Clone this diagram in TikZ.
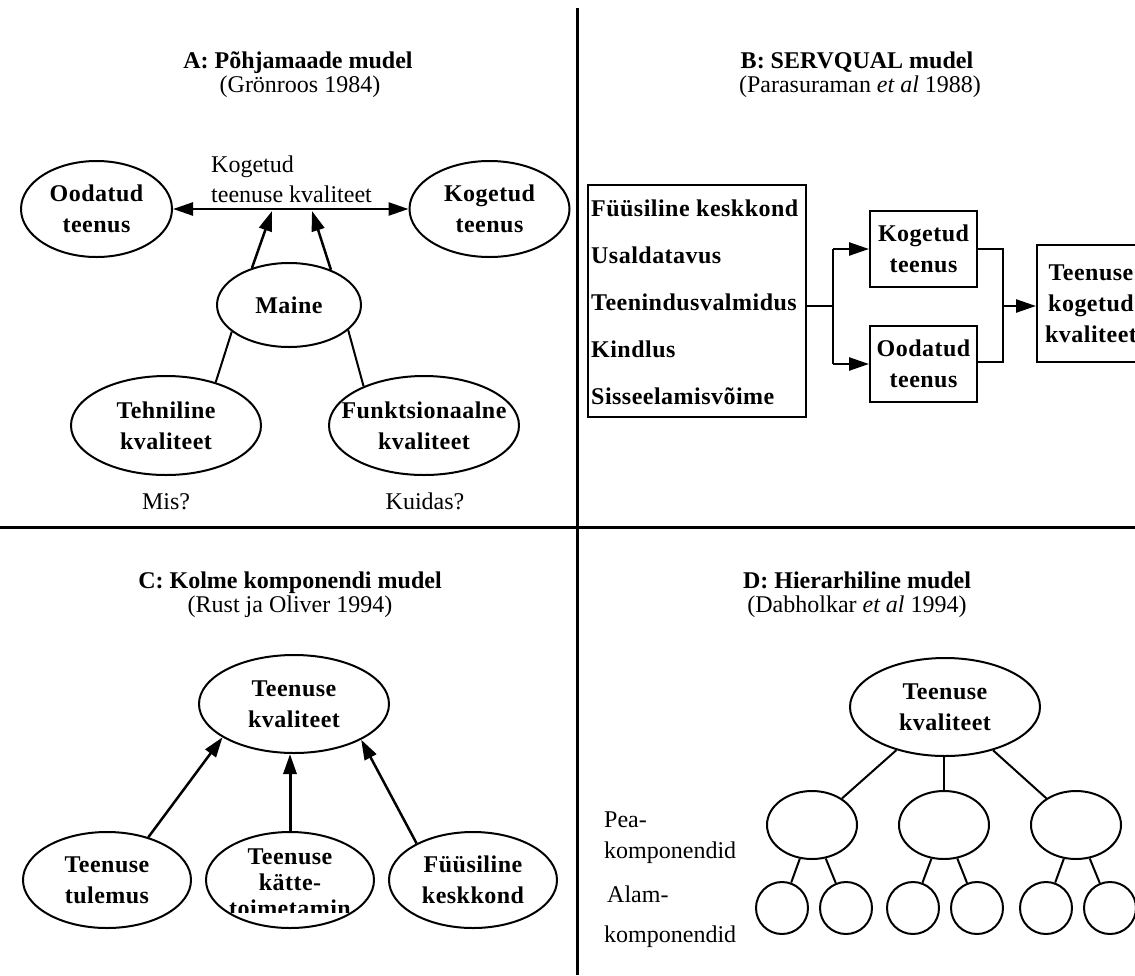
\documentclass[tikz,border=0pt]{standalone}
\usepackage{fontspec}
\setmainfont{Liberation Serif}
\usetikzlibrary{arrows.meta,shapes.geometric}

\tikzset{
  txt/.style={font=\fontsize{24}{26}\selectfont, inner sep=0},
  ttl/.style={font=\fontsize{24}{26}\selectfont\bfseries, inner sep=0},
  btxt/.style={font=\fontsize{24}{31}\selectfont\bfseries\addfontfeatures{LetterSpace=2}, align=center, inner sep=0},
  bitem/.style={font=\fontsize{24}{31}\selectfont\bfseries\addfontfeatures{LetterSpace=2}, inner sep=0, anchor=base west},
  oval/.style={ellipse, draw, line width=2pt, inner sep=0},
  box/.style={rectangle, draw, line width=2pt, inner sep=0},
  ln/.style={line width=2pt},
  tip/.tip={Triangle[length=20pt,width=13pt]},
  arr/.style={line width=2.5pt, -tip},
  sep/.style={line width=3pt},
}

\begin{document}
\begin{tikzpicture}[x=1pt,y=-1pt]
\clip (0,0) rectangle (1135,975);
\fill[white] (0,0) rectangle (1135,975);

% quadrant dividers
\coordinate (vtop) at (577,8);
\coordinate (vbot) at (577,975);
\coordinate (hl) at (0,527);
\coordinate (hr) at (1135,527);
\draw[sep] (vtop) -- (vbot);
\draw[sep] (hl) -- (hr);

% ---------- A: Nordic model ----------
\node[ttl, anchor=base] (tA) at (298,68) {A: Põhjamaade mudel};
\node[txt, anchor=base] (sA) at (300,92) {(Grönroos 1984)};

\node[oval, minimum width=151, minimum height=96, label={[btxt]center:Oodatud\\teenus}] (ood) at (96.5,209) {};
\node[oval, minimum width=160, minimum height=96, label={[btxt]center:Kogetud\\teenus}] (kog) at (489.5,209) {};
\draw[line width=2.5pt, tip-tip] (ood) -- (kog);

\node[txt, anchor=base west] (kq1) at (211,172) {Kogetud};
\node[txt, anchor=base west] (kq2) at (211,202) {teenuse kvaliteet};

\node[oval, minimum width=144, minimum height=84, label={[btxt]center:Maine}] (mai) at (289,305) {};
\coordinate (u1) at (272,211);
\coordinate (u2) at (312,211);
\draw[arr] (mai.135) -- (u1);
\draw[arr] (mai.40) -- (u2);

\node[oval, minimum width=190, minimum height=99, label={[btxt]center:Tehniline\\kvaliteet}] (teh) at (166,425.5) {};
\node[oval, minimum width=190, minimum height=99, label={[btxt]center:Funktsionaalne\\kvaliteet}] (fun) at (424,425.5) {};
\draw[ln] (mai.205) -- (teh.41);
\draw[ln] (mai.337) -- (fun.147);

\node[txt, anchor=base] (mis) at (166,509) {Mis?};
\node[txt, anchor=base] (kui) at (425,509) {Kuidas?};

% ---------- B: SERVQUAL ----------
\node[ttl, anchor=base] (tB) at (857,68) {B: SERVQUAL mudel};
\node[txt, anchor=base] (sB) at (860,92) {(Parasuraman \textit{et al} 1988)};

\node[box, minimum width=218, minimum height=232] (dim) at (697,301) {};
\node[bitem] (d1) at (591,216) {Füüsiline keskkond};
\node[bitem] (d2) at (591,263) {Usaldatavus};
\node[bitem] (d3) at (591,310) {Teenindusvalmidus};
\node[bitem] (d4) at (591,357) {Kindlus};
\node[bitem] (d5) at (591,404) {Sisseelamisvõime};

\node[box, minimum width=107, minimum height=76, label={[btxt]center:Kogetud\\teenus}] (kgb) at (923.5,249) {};
\node[box, minimum width=107, minimum height=76, label={[btxt]center:Oodatud\\teenus}] (odb) at (923.5,364) {};
\node[box, minimum width=108, minimum height=117, label={[btxt]center:Teenuse\\kogetud\\kvaliteet}] (tkk) at (1091,303.5) {};

\coordinate (jm) at (833,306);
\coordinate (jt) at (833,249);
\coordinate (jb) at (833,364);
\draw[ln] (dim.east |- jm) -- (jm);
\draw[ln] (jt) -- (jb);
\draw[arr] (jt) -- (kgb.west);
\draw[arr] (jb) -- (odb.west);

\coordinate (rt) at (1003,249);
\coordinate (rb) at (1003,362);
\coordinate (rm) at (1003,306);
\draw[ln] (kgb.east) -- (rt) -- (rb) -- (odb.east |- rb);
\draw[arr] (rm) -- (tkk.west |- rm);

% ---------- C: three-component model ----------
\node[ttl, anchor=base] (tC) at (290,588) {C: Kolme komponendi mudel};
\node[txt, anchor=base] (sC) at (290,612) {(Rust ja Oliver 1994)};

\node[oval, minimum width=190, minimum height=98, label={[btxt]center:Teenuse\\kvaliteet}] (tkv) at (294,704) {};
\node[oval, minimum width=168, minimum height=96, label={[btxt]center:Teenuse\\tulemus}] (tul) at (107,880) {};
\node[oval, minimum width=168, minimum height=96] (kat) at (290,880) {};
\node[oval, minimum width=168, minimum height=96, label={[btxt]center:Füüsiline\\keskkond}] (fys) at (473,880) {};
\begin{scope}
  \clip (200,840) rectangle (380,912);
  \node[btxt, font=\fontsize{24}{26}\selectfont\bfseries\addfontfeatures{LetterSpace=2}] (katt) at (290,883) {Teenuse\\kätte-\\toimetamin};
\end{scope}

\draw[arr] (tul.46) -- (tkv.205);
\draw[arr, line width=3pt] (kat.north) -- (kat.north |- tkv.south);
\draw[arr] (fys.147.5) -- (tkv.332);

% ---------- D: hierarchical model ----------
\node[ttl, anchor=base] (tD) at (857,588) {D: Hierarhiline mudel};
\node[txt, anchor=base] (sD) at (857,612) {(Dabholkar \textit{et al} 1994)};

\node[oval, minimum width=190, minimum height=98, label={[btxt]center:Teenuse\\kvaliteet}] (dtop) at (945,707) {};
\node[oval, minimum width=90, minimum height=68] (p1) at (812,825) {};
\node[oval, minimum width=90, minimum height=68] (p2) at (944,825) {};
\node[oval, minimum width=90, minimum height=68] (p3) at (1076,825) {};
\draw[ln] (dtop) -- (p1);
\draw[ln] (p2.north) -- (p2.north |- dtop.south);
\draw[ln] (dtop) -- (p3);

\foreach \i/\x in {1/782,2/846,3/913,4/977,5/1046,6/1110}
  \node[oval, minimum width=52, minimum height=52] (c\i) at (\x,908) {};
\draw[ln] (p1) -- (c1);
\draw[ln] (p1) -- (c2);
\draw[ln] (p2) -- (c3);
\draw[ln] (p2) -- (c4);
\draw[ln] (p3) -- (c5);
\draw[ln] (p3) -- (c6);

\node[txt, anchor=base west] (pk1) at (604,827) {Pea-};
\node[txt, anchor=base west] (pk2) at (604,858) {komponendid};
\node[txt, anchor=base west] (ak1) at (607,902) {Alam-};
\node[txt, anchor=base west] (ak2) at (604,942) {komponendid};
\end{tikzpicture}
\end{document}
